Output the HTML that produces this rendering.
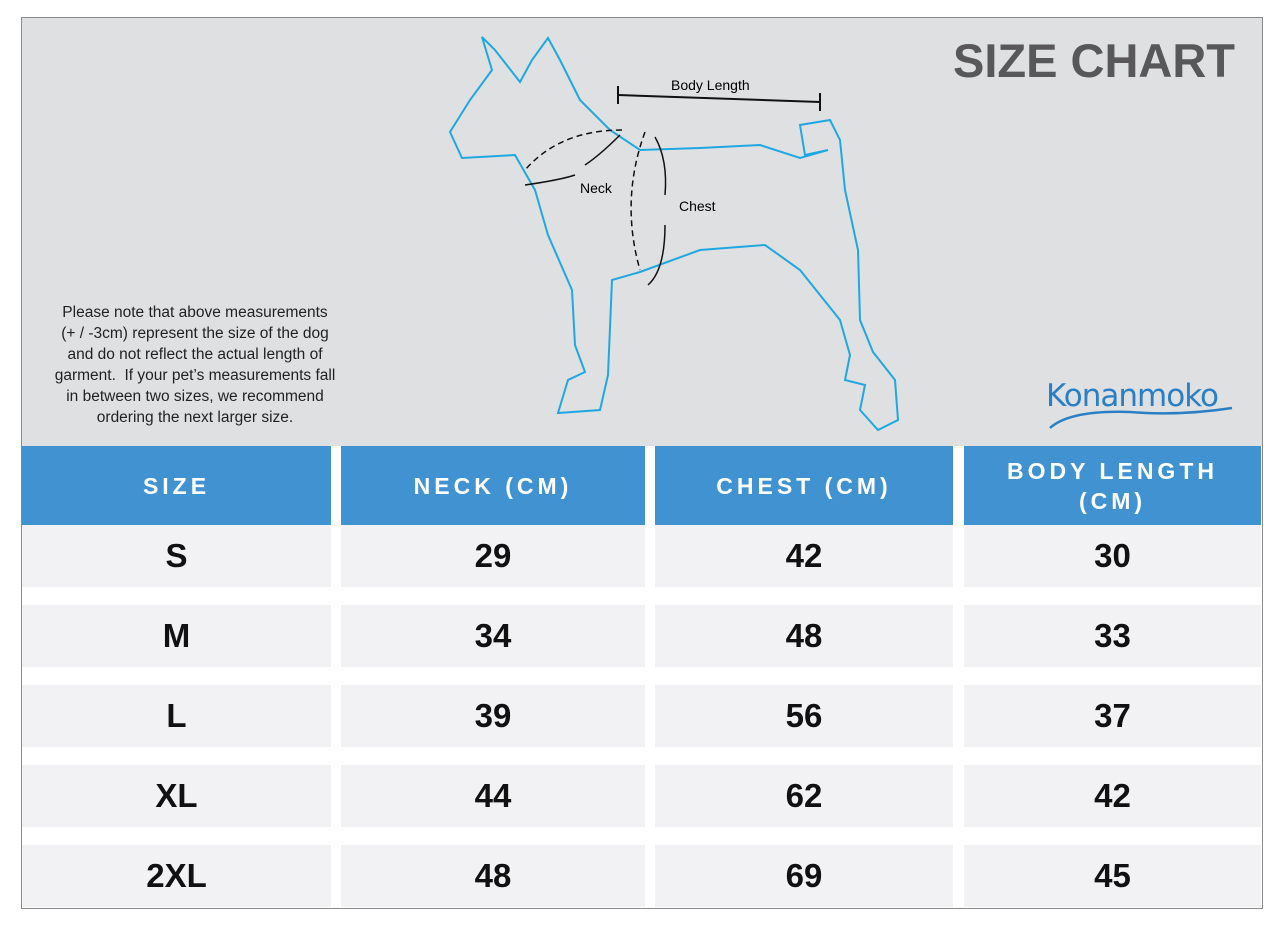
<!DOCTYPE html>
<html><head><meta charset="utf-8"><style>
body{margin:0;background:#fff;width:1279px;height:929px;position:relative;overflow:hidden;font-family:"Liberation Sans",sans-serif}
.box{position:absolute;left:21px;top:17px;width:1240px;height:890px;border:1px solid #8a8a8a;background:#fff}
.top{position:absolute;left:22px;top:18px;width:1240px;height:428px;background:#dfe0e2}
.cell{position:absolute;display:flex;align-items:center;justify-content:center;text-align:center}
.h{background:#4192d0;color:#fff;font-weight:bold;font-size:23px;letter-spacing:4px;line-height:30px;top:446px;height:79px}
.d{background:#f2f2f4;color:#111;font-weight:bold;font-size:33px;height:62px}
</style></head><body>
<div class="box"></div>
<div class="top"></div>
<div style="position:absolute;left:953px;top:33px;font-size:47px;font-weight:bold;color:#58585a;letter-spacing:0px">SIZE CHART</div>
<div style="position:absolute;left:20px;top:302px;width:350px;text-align:center;font-size:15.5px;line-height:21px;color:#222">Please note that above measurements<br>(+ / -3cm) represent the size of the dog<br>and do not reflect the actual length of<br>garment.&nbsp; If your pet’s measurements fall<br>in between two sizes, we recommend<br>ordering the next larger size.</div>
<div style="position:absolute;left:1046px;top:378px;font-size:31px;color:#2a7fc4;font-family:'DejaVu Sans',sans-serif;letter-spacing:-1px">Konanmoko</div>
<svg style="position:absolute;left:0;top:0" width="1279" height="446">
<path d="M1050,428 Q1070,410 1130,412 Q1180,416 1232,408" fill="none" stroke="#2a7fc4" stroke-width="2.5"/>
<path d="M482,37 L492,70 L470,100 L450,132 L462,158 L515,155 L535,190 L548,235 L572,290 L575,345 L585,372 L568,380 L558,413 L600,410 L608,375 L612,280 L640,272 L700,250 L765,245 L800,270 L840,320 L850,355 L845,380 L865,385 L860,410 L878,430 L898,420 L895,380 L873,352 L860,320 L858,250 L845,190 L840,140 L830,120 L800,125 L805,155 L828,150 L800,158 L760,145 L700,148 L640,150 L610,130 L580,100 L560,60 L548,38 L532,60 L520,82 L495,50 Z" fill="none" stroke="#1fa8e0" stroke-width="2"/>
<line x1="618" y1="95" x2="820" y2="102" stroke="#111" stroke-width="2"/>
<line x1="618" y1="86" x2="618" y2="104" stroke="#111" stroke-width="2"/>
<line x1="820" y1="93" x2="820" y2="111" stroke="#111" stroke-width="2"/>
<path d="M622,130 Q560,130 525,170" fill="none" stroke="#111" stroke-dasharray="6,4" stroke-width="1.5"/>
<path d="M525,185 Q560,180 575,175" fill="none" stroke="#111" stroke-width="1.5"/>
<path d="M620,135 Q600,155 585,165" fill="none" stroke="#111" stroke-width="1.5"/>
<path d="M645,132 Q620,200 640,270" fill="none" stroke="#111" stroke-dasharray="6,4" stroke-width="1.5"/>
<path d="M655,137 Q668,160 665,195" fill="none" stroke="#111" stroke-width="1.5"/>
<path d="M665,225 Q665,270 648,285" fill="none" stroke="#111" stroke-width="1.5"/>
<text x="671" y="90" font-size="14" font-family="Liberation Sans">Body Length</text>
<text x="580" y="193" font-size="14" font-family="Liberation Sans">Neck</text>
<text x="679" y="211" font-size="14" font-family="Liberation Sans">Chest</text>
</svg>
<div class="cell h" style="left:22px;width:309px">SIZE</div>
<div class="cell h" style="left:341px;width:304px">NECK (CM)</div>
<div class="cell h" style="left:655px;width:298px">CHEST (CM)</div>
<div class="cell h" style="left:964px;width:297px">BODY LENGTH<br>(CM)</div>

<div class="cell d" style="left:22px;width:309px;top:525px">S</div><div class="cell d" style="left:341px;width:304px;top:525px">29</div><div class="cell d" style="left:655px;width:298px;top:525px">42</div><div class="cell d" style="left:964px;width:297px;top:525px">30</div>
<div class="cell d" style="left:22px;width:309px;top:605px">M</div><div class="cell d" style="left:341px;width:304px;top:605px">34</div><div class="cell d" style="left:655px;width:298px;top:605px">48</div><div class="cell d" style="left:964px;width:297px;top:605px">33</div>
<div class="cell d" style="left:22px;width:309px;top:685px">L</div><div class="cell d" style="left:341px;width:304px;top:685px">39</div><div class="cell d" style="left:655px;width:298px;top:685px">56</div><div class="cell d" style="left:964px;width:297px;top:685px">37</div>
<div class="cell d" style="left:22px;width:309px;top:765px">XL</div><div class="cell d" style="left:341px;width:304px;top:765px">44</div><div class="cell d" style="left:655px;width:298px;top:765px">62</div><div class="cell d" style="left:964px;width:297px;top:765px">42</div>
<div class="cell d" style="left:22px;width:309px;top:845px">2XL</div><div class="cell d" style="left:341px;width:304px;top:845px">48</div><div class="cell d" style="left:655px;width:298px;top:845px">69</div><div class="cell d" style="left:964px;width:297px;top:845px">45</div>
</body></html>
